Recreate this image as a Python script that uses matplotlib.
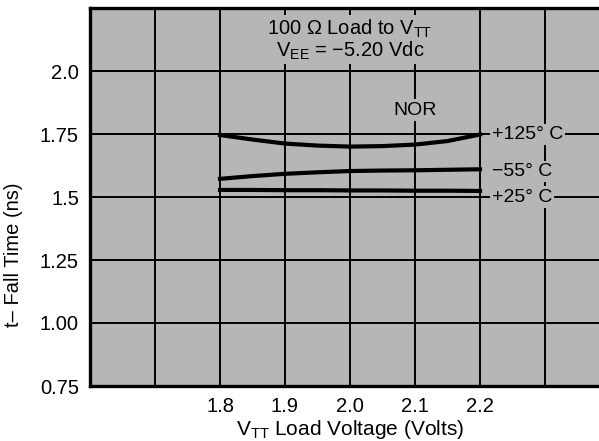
import matplotlib
matplotlib.use("Agg")
import matplotlib.pyplot as plt

plt.rcParams['font.family'] = ['Liberation Sans', 'DejaVu Sans']
plt.rcParams['mathtext.fontset'] = 'custom'
plt.rcParams['mathtext.rm'] = 'Liberation Sans'
plt.rcParams['mathtext.it'] = 'Liberation Sans'

# data
vtt = [1.8, 1.85, 1.9, 1.95, 2.0, 2.05, 2.1, 2.15, 2.2]
fall_125 = [1.746, 1.728, 1.712, 1.704, 1.700, 1.702, 1.708, 1.722, 1.748]
fall_m55 = [1.572, 1.583, 1.592, 1.598, 1.603, 1.605, 1.606, 1.608, 1.610]
fall_25 = [1.528, 1.528, 1.527, 1.527, 1.526, 1.526, 1.525, 1.525, 1.524]

x_grid = [1.6, 1.7, 1.8, 1.9, 2.0, 2.1, 2.2, 2.3, 2.4]
x_labels = ['', '', '1.8', '1.9', '2.0', '2.1', '2.2', '', '']
y_ticks = [0.75, 1.00, 1.25, 1.5, 1.75, 2.0, 2.25]
y_labels = ['0.75', '1.00', '1.25', '1.5', '1.75', '2.0', '']

temp_labels = ['+125° C', '\u221255° C', '+25° C']
temp_label_y = [1.748, 1.600, 1.500]

bg = '#b6b6b6'

fig = plt.figure(figsize=(5.99, 4.41), dpi=100)
ax = fig.add_axes([90 / 599, 55 / 441, 520 / 599, 378 / 441])
ax.set_facecolor(bg)

ax.set_xlim(1.6, 2.4)
ax.set_ylim(0.75, 2.25)
ax.set_xticks(x_grid)
ax.set_xticklabels(x_labels)
ax.set_yticks(y_ticks)
ax.set_yticklabels(y_labels)
ax.tick_params(length=0, labelsize=14.5, pad=8)
ax.grid(True, color='black', lw=1.4, zorder=1)
ax.set_axisbelow(True)
for s in ax.spines.values():
    s.set_linewidth(2.4)

ax.plot(vtt, fall_125, color='black', lw=3, zorder=3)
ax.plot(vtt, fall_m55, color='black', lw=3, zorder=3)
ax.plot(vtt, fall_25, color='black', lw=3, zorder=3)

box = dict(facecolor=bg, edgecolor='none', pad=1.5)
for lab, yv in zip(temp_labels, temp_label_y):
    ax.text(2.218, yv, lab, ha='left', va='center', fontsize=14, bbox=box, zorder=4)

ax.text(2.0, 2.125, '100 \u03a9 Load to V$_{\\mathrm{TT}}$\nV$_{\\mathrm{EE}}$ = \u22125.20 Vdc',
        ha='center', va='center', multialignment='center', linespacing=1.0,
        fontsize=14.5, bbox=box, zorder=4)
ax.text(2.1, 1.845, 'NOR', ha='center', va='center', fontsize=14, bbox=box, zorder=4)

ax.set_xlabel('V$_{\\mathrm{TT}}$ Load Voltage (Volts)', fontsize=15)
ax.xaxis.set_label_coords(0.5, -0.085)
ax.set_ylabel('t\u2013 Fall Time (ns)', fontsize=14.5)
ax.yaxis.set_label_coords(-0.128, 0.347)

fig.savefig('out.png', dpi=100)
